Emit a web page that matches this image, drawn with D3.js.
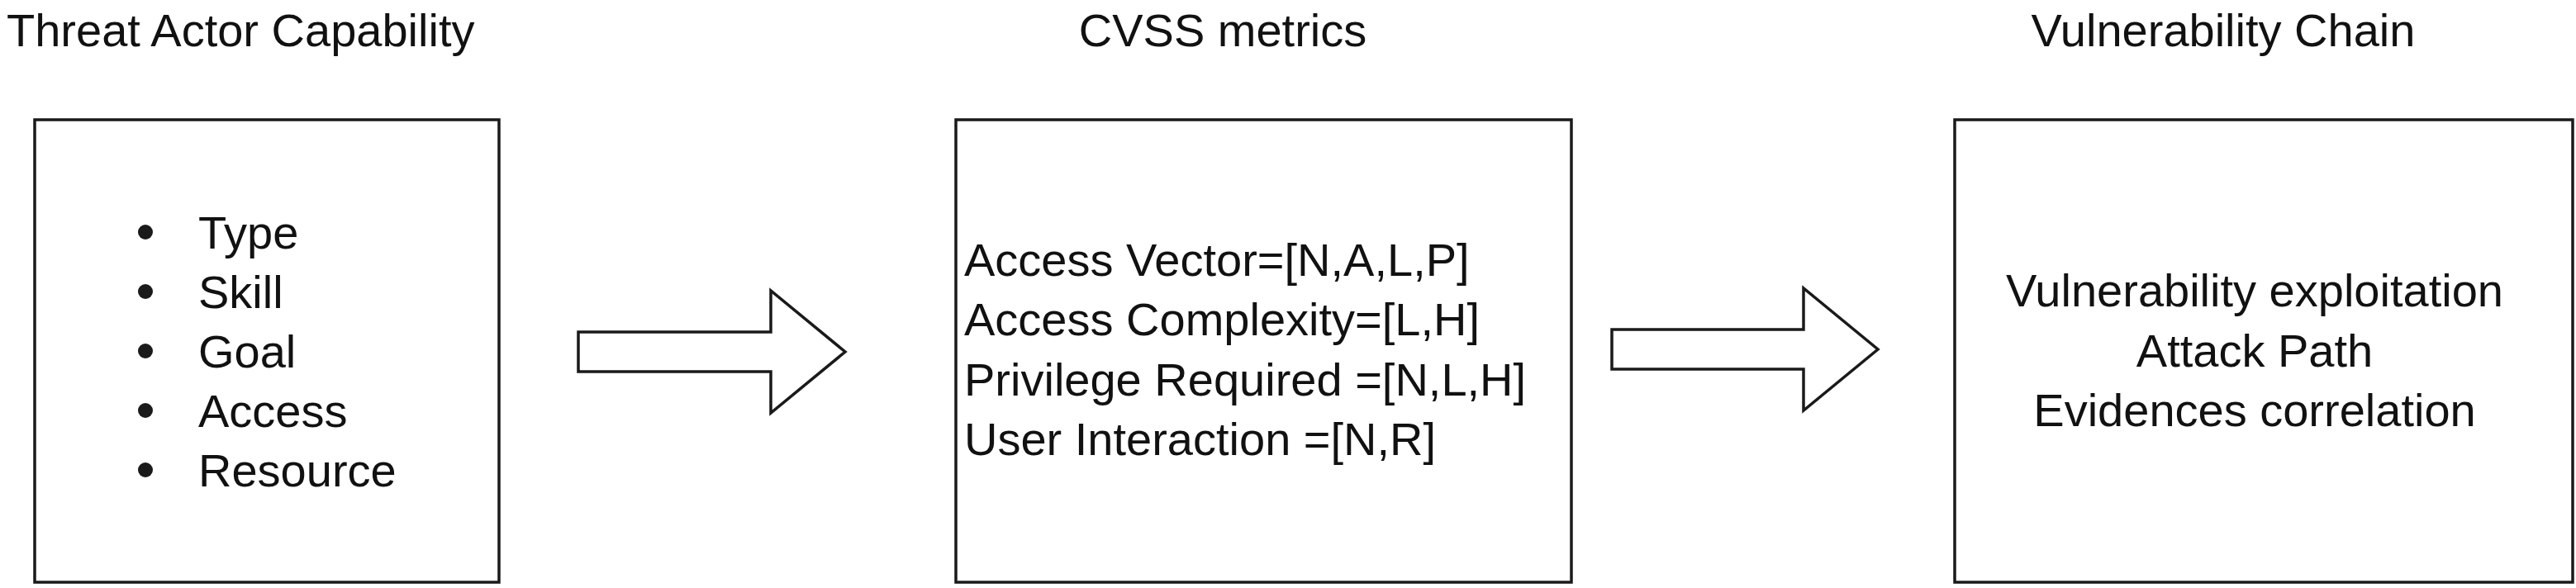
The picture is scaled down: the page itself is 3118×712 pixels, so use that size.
<!DOCTYPE html>
<html>
<head>
<meta charset="utf-8">
<script src="https://cdn.jsdelivr.net/npm/d3@7"></script>
<style>
  body { margin: 0; background: #fff; }
  text { font-family: "Liberation Sans", Arial, sans-serif; fill: #111; }
</style>
</head>
<body>
<svg id="chart" width="3118" height="712"></svg>
<script>
const titles = ['Threat Actor Capability', 'CVSS metrics', 'Vulnerability Chain']
const capabilities = ['Type', 'Skill', 'Goal', 'Access', 'Resource']
const metrics = ['Access Vector=[N,A,L,P]', 'Access Complexity=[L,H]', 'Privilege Required =[N,L,H]', 'User Interaction =[N,R]']
const chainItems = ['Vulnerability exploitation', 'Attack Path', 'Evidences correlation']

const svg = d3.select('#chart')
const ink = '#1a1a1a'
const fs = 56

// box frames
const boxes = [
  { x0: 42, x1: 604, title: 263 },
  { x0: 1157, x1: 1902, title: 1480 },
  { x0: 2366, x1: 3114, title: 2691 }
]
const boxTop = 145, boxBottom = 705

svg.selectAll('rect.box').data(boxes).enter().append('rect')
    .attr('class', 'box')
    .attr('x', d => d.x0).attr('y', boxTop)
    .attr('width', d => d.x1 - d.x0).attr('height', boxBottom - boxTop)
    .attr('fill', 'none').attr('stroke', ink).attr('stroke-width', 3.5)

svg.selectAll('text.title').data(titles).enter().append('text')
    .attr('class', 'title')
    .attr('x', (d, i) => i === 0 ? 8 : boxes[i].title)
    .attr('y', 56)
    .attr('text-anchor', (d, i) => i === 0 ? 'start' : 'middle')
    .style('font-size', fs + 'px')
    .text(d => d)

// bullet list
const yCap = d3.scalePoint().domain(capabilities).range([301, 589])
const g1 = svg.append('g')
g1.selectAll('circle').data(capabilities).enter().append('circle')
    .attr('cx', 176).attr('cy', d => yCap(d) - 20).attr('r', 9).attr('fill', ink)
g1.selectAll('text').data(capabilities).enter().append('text')
    .attr('x', 240).attr('y', d => yCap(d))
    .style('font-size', fs + 'px')
    .text(d => d)

// metrics
const yMet = d3.scalePoint().domain(metrics).range([334, 551])
svg.append('g').selectAll('text').data(metrics).enter().append('text')
    .attr('x', 1167).attr('y', d => yMet(d))
    .style('font-size', fs + 'px')
    .text(d => d)

// chain
const yChain = d3.scalePoint().domain(chainItems).range([371, 516])
svg.append('g').selectAll('text').data(chainItems).enter().append('text')
    .attr('x', 2729).attr('y', d => yChain(d))
    .attr('text-anchor', 'middle')
    .style('font-size', fs + 'px')
    .text(d => d)

// block arrows
const arrows = [
  { x0: 700, xh: 933, tip: 1023, cy: 426 },
  { x0: 1951, xh: 2183, tip: 2273, cy: 423 }
]
const arrowPath = d => {
  const p = d3.path()
  p.moveTo(d.x0, d.cy - 24)
  p.lineTo(d.xh, d.cy - 24)
  p.lineTo(d.xh, d.cy - 74)
  p.lineTo(d.tip, d.cy)
  p.lineTo(d.xh, d.cy + 74)
  p.lineTo(d.xh, d.cy + 24)
  p.lineTo(d.x0, d.cy + 24)
  p.closePath()
  return p.toString()
}
svg.selectAll('path.arrow').data(arrows).enter().append('path')
    .attr('class', 'arrow')
    .attr('d', arrowPath)
    .attr('fill', '#fff').attr('stroke', ink).attr('stroke-width', 3.5)
    .attr('stroke-linejoin', 'miter')
</script>
</body>
</html>
